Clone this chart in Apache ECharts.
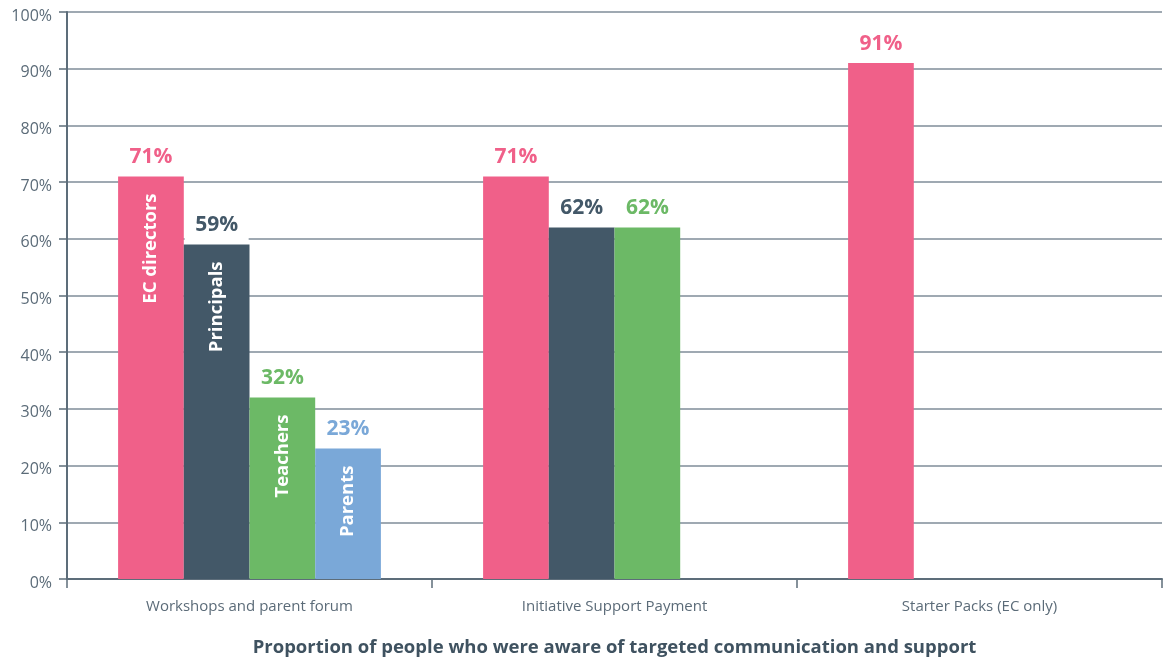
<!DOCTYPE html>
<html>
<head>
<meta charset="utf-8">
<script src="https://cdn.jsdelivr.net/npm/echarts@6/dist/echarts.min.js"></script>
<style>
  html, body { margin: 0; padding: 0; background: #fff; }
  #chart { width: 1170px; height: 660px; }
</style>
</head>
<body>
<div id="chart"></div>
<script>
// Awareness of targeted communication and support, by group (%)
const categories = ['Workshops and parent forum', 'Initiative Support Payment', 'Starter Packs (EC only)'];
const groupNames = ['EC directors', 'Principals', 'Teachers', 'Parents'];
const ecDirectors = [71, 71, 91];
const principals = [59, 62, null];
const teachers = [32, 62, null];
const parents = [23, null, null];
const yTicks = [0, 10, 20, 30, 40, 50, 60, 70, 80, 90, 100];
const axisTitle = 'Proportion of people who were aware of targeted communication and support';

const groupValues = [ecDirectors, principals, teachers, parents];
const groupColors = ['#f06089', '#435868', '#6cb966', '#7aa8d8'];
const FONT = '"Open Sans", "Noto Sans", sans-serif';

const series = [];
groupValues.forEach((values, g) => {
  const stackId = 'group' + g;
  // the bar itself, with its group name written inside the first category
  series.push({
    name: groupNames[g],
    type: 'bar',
    stack: stackId,
    itemStyle: { color: groupColors[g] },
    data: values.map((v, i) => {
      if (v == null) return null;
      if (i !== 0) return { value: v };
      return {
        value: v,
        label: {
          show: true,
          position: 'insideTop',
          rotate: 90,
          align: 'right',
          verticalAlign: 'middle',
          distance: 17,
          color: '#ffffff',
          fontFamily: FONT,
          fontWeight: 'bold',
          fontSize: 18.5,
          formatter: groupNames[g]
        }
      };
    }),
    label: { show: false }
  });
  // zero-height cap carrying the percentage above each bar
  series.push({
    name: groupNames[g] + ' value',
    type: 'bar',
    stack: stackId,
    itemStyle: { color: groupColors[g] },
    data: values.map(v => (v == null ? null : 0)),
    label: {
      show: true,
      position: 'top',
      distance: 4,
      color: groupColors[g],
      fontFamily: FONT,
      fontWeight: 'bold',
      fontSize: 21,
      backgroundColor: '#ffffff',
      width: 64,
      align: 'center',
      padding: [2, 0, 5, 0],
      formatter: p => values[p.dataIndex] + '%'
    }
  });
});

const chart = echarts.init(document.getElementById('chart'), null, { renderer: 'canvas' });
chart.setOption({
  animation: false,
  backgroundColor: '#ffffff',
  grid: { left: 67, right: 8, top: 12, bottom: 81, containLabel: false, outerBoundsMode: 'none' },
  xAxis: {
    type: 'category',
    data: categories,
    name: axisTitle,
    nameLocation: 'middle',
    nameGap: 59,
    nameTextStyle: { fontFamily: FONT, fontWeight: 'bold', fontSize: 18.5, color: '#3f5260' },
    axisLine: { lineStyle: { color: '#5d6d7a', width: 2 } },
    axisTick: { show: true, length: 9, lineStyle: { color: '#5d6d7a', width: 1.5 } },
    axisLabel: { margin: 20, fontFamily: FONT, fontSize: 15, color: '#5b6b78' }
  },
  yAxis: {
    type: 'value',
    min: 0,
    max: 100,
    interval: 10,
    axisLine: { show: true, lineStyle: { color: '#5d6d7a', width: 2 } },
    axisTick: { show: true, length: 8, lineStyle: { color: '#5d6d7a', width: 1.5 } },
    axisLabel: {
      margin: 15,
      verticalAlign: 'top',
      lineHeight: 8,
      fontFamily: FONT,
      fontSize: 16,
      color: '#5b6b78',
      formatter: v => (yTicks.indexOf(v) >= 0 ? v + '%' : '')
    },
    splitLine: { show: true, lineStyle: { color: '#7f8d99', width: 1.5 } }
  },
  barGap: '0%',
  barCategoryGap: '28%',
  series: series
});
</script>
</body>
</html>
